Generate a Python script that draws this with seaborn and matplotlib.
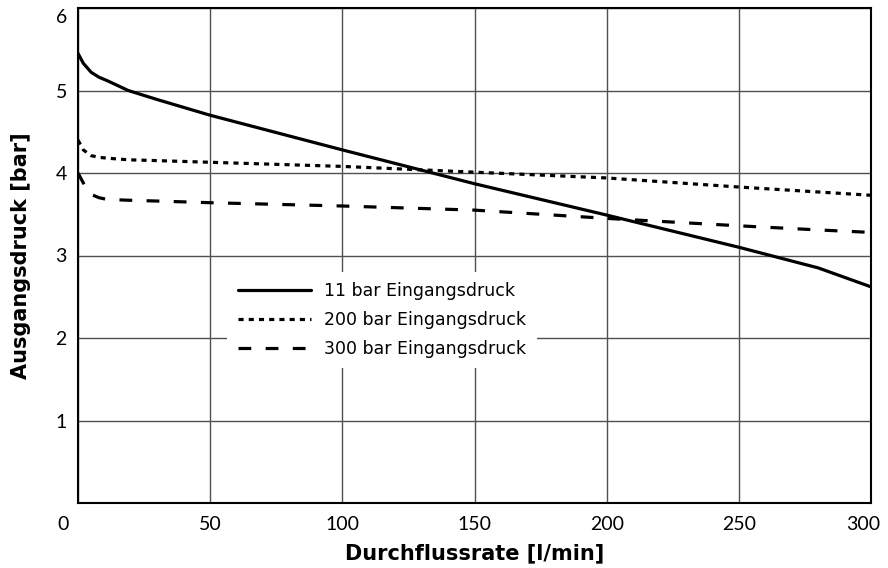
import matplotlib
matplotlib.use("Agg")
import matplotlib.pyplot as plt
import matplotlib.transforms as mtransforms
import seaborn as sns
import pandas as pd

# ---- data ----
flow = [0, 2, 5, 8, 11, 19, 30, 50, 75, 100, 150, 200, 250, 280, 300]
p_11 = [5.45, 5.33, 5.22, 5.16, 5.12, 5.00, 4.89, 4.70, 4.49, 4.28, 3.87, 3.49, 3.10, 2.85, 2.62]
p_200 = [4.40, 4.28, 4.21, 4.19, 4.18, 4.16, 4.15, 4.13, 4.105, 4.08, 4.01, 3.94, 3.83, 3.77, 3.73]
p_300 = [4.00, 3.88, 3.74, 3.70, 3.68, 3.67, 3.66, 3.64, 3.62, 3.60, 3.55, 3.45, 3.36, 3.31, 3.28]
series_names = ["11 bar Eingangsdruck", "200 bar Eingangsdruck", "300 bar Eingangsdruck"]
x_ticks = [0, 50, 100, 150, 200, 250, 300]
y_ticks = [1, 2, 3, 4, 5, 6]
x_label = "Durchflussrate [l/min]"
y_label = "Ausgangsdruck [bar]"

df = pd.concat([
    pd.DataFrame({"flow": flow, "p": vals, "serie": name})
    for name, vals in zip(series_names, [p_11, p_200, p_300])
], ignore_index=True)

sns.set_style("white")
plt.rcParams["font.family"] = ["Lato", "DejaVu Sans"]
plt.rcParams["text.color"] = "black"
plt.rcParams["axes.labelcolor"] = "black"
plt.rcParams["xtick.color"] = "black"
plt.rcParams["ytick.color"] = "black"

fig = plt.figure(figsize=(8.88, 5.68), dpi=100)
ax = fig.add_axes([78/888, 1 - 503/568, (871-78)/888, (503-8)/568])

sns.lineplot(
    data=df, x="flow", y="p", style="serie", hue="serie",
    palette=["black", "black", "black"],
    dashes={series_names[0]: "", series_names[1]: (1.6, 1.6), series_names[2]: (4.0, 4.5)},
    linewidth=2.3, ax=ax, legend=True, zorder=3,
)

ax.set_xlim(0, 300)
ax.set_ylim(0, 6)
ax.set_xticks(x_ticks)
ax.set_yticks(y_ticks)
ax.grid(True, color="#505050", linewidth=1.0, zorder=0)
ax.set_axisbelow(True)
for s in ax.spines.values():
    s.set_color("black")
    s.set_linewidth(1.5)
ax.tick_params(axis="both", length=0, labelsize=14, colors="black", labelcolor="black")
ax.tick_params(axis="x", pad=9)
ax.tick_params(axis="y", pad=8)

# shift edge tick labels inward like the reference
xl = ax.get_xticklabels()
xl[0].set_transform(xl[0].get_transform() + mtransforms.ScaledTranslation(-15/100, 0, fig.dpi_scale_trans))
xl[-1].set_transform(xl[-1].get_transform() + mtransforms.ScaledTranslation(-8/100, 0, fig.dpi_scale_trans))
yl = ax.get_yticklabels()
yl[-1].set_transform(yl[-1].get_transform() + mtransforms.ScaledTranslation(0, -8/100, fig.dpi_scale_trans))

ax.set_xlabel(x_label, fontsize=15, fontweight="bold", family="DejaVu Sans", labelpad=8, color="black")
ax.set_ylabel(y_label, fontsize=15, fontweight="bold", family="DejaVu Sans", labelpad=18, color="black")

leg = ax.legend(
    loc="upper left", bbox_to_anchor=(0.188, 0.467), borderaxespad=0,
    frameon=True, fancybox=False, edgecolor="white", facecolor="white", framealpha=1,
    prop={"family": "DejaVu Sans", "size": 12.5},
    handlelength=4.25, handletextpad=0.75, labelspacing=0.62,
    borderpad=0.6, title=None,
)
leg.get_frame().set_linewidth(0)
for h in leg.get_lines():
    h.set_linewidth(2.3)
for t in leg.get_texts():
    t.set_color("black")

fig.savefig("out.png", dpi=100)
